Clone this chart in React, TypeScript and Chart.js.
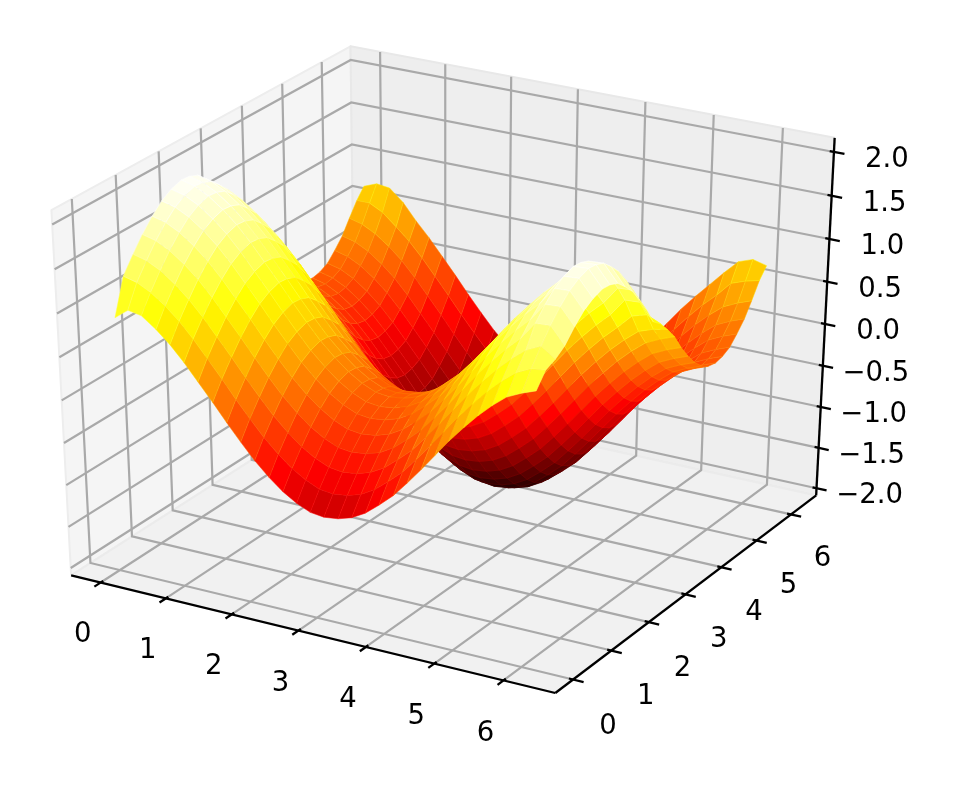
import React, { useEffect, useRef } from "react";
import { Chart, registerables } from "chart.js";

Chart.register(...registerables);

const gridX = [.05,.25,.45,.66,.86,1.06,1.26,1.47,1.67,1.87,2.07,2.28,2.48,2.68,2.88,3.08,3.29,3.49,3.69,3.89,4.1,4.3,4.5,4.7,4.9,5.11,5.31,5.51,5.71,5.92,6.12];
const gridY = [.08,.31,.55,.78,1.02,1.25,1.48,1.72,1.91,2.11,2.3,2.5,2.69,2.89,3.08,3.28,3.47,3.67,3.86,4.06,4.25,4.45,4.64,4.84,5.03,5.23,5.42,5.62,5.81,6.01,6.2];
const surfaceZ: number[][] = [
[.88,1,.97,.85,.71,.54,.35,.15,-.05,-.24,-.42,-.58,-.71,-.81,-.88,-.9,-.88,-.83,-.74,-.61,-.46,-.28,-.09,.11,.31,.5,.67,.82,.95,1.03,1.09],
[1.29,1.25,1.17,1.05,.91,.74,.55,.35,.15,-.04,-.22,-.38,-.51,-.61,-.68,-.7,-.68,-.63,-.54,-.41,-.26,-.08,.11,.31,.51,.7,.87,1.02,1.15,1.23,1.25],
[1.47,1.43,1.35,1.23,1.09,.92,.73,.53,.33,.14,-.04,-.2,-.33,-.43,-.5,-.52,-.5,-.45,-.36,-.23,-.08,.1,.29,.49,.69,.88,1.05,1.2,1.33,1.41,1.3],
[1.63,1.59,1.51,1.39,1.25,1.08,.89,.69,.49,.3,.12,-.04,-.17,-.27,-.34,-.36,-.34,-.29,-.2,-.07,.08,.26,.45,.65,.85,1.04,1.21,1.36,1.56,1.57,1.38],
[1.77,1.73,1.65,1.53,1.39,1.22,1.03,.83,.63,.44,.26,.1,-.03,-.13,-.2,-.22,-.2,-.15,-.06,.07,.22,.4,.59,.79,.99,1.18,1.35,1.5,1.7,1.71,1.52],
[1.88,1.84,1.76,1.64,1.5,1.33,1.14,.94,.74,.55,.37,.21,.08,-.02,-.09,-.11,-.09,-.04,.05,.18,.33,.51,.7,.9,1.1,1.29,1.46,1.61,1.81,1.82,1.63],
[1.95,1.91,1.83,1.71,1.57,1.4,1.21,1.01,.81,.62,.44,.28,.15,.05,-.02,-.04,-.02,.03,.12,.25,.4,.58,.77,.97,1.17,1.36,1.53,1.68,1.88,1.89,1.7],
[1.99,1.95,1.87,1.75,1.61,1.44,1.25,1.05,.85,.66,.48,.32,.19,.09,.02,0,.02,.07,.16,.29,.44,.62,.81,1.01,1.21,1.4,1.57,1.72,1.92,1.93,1.74],
[1.98,1.94,1.86,1.74,1.6,1.43,1.24,1.04,.84,.65,.47,.31,.18,.08,.01,-.01,.01,.06,.15,.28,.43,.61,.8,1,1.2,1.39,1.56,1.71,1.91,1.92,1.73],
[1.94,1.9,1.82,1.7,1.56,1.39,1.2,1,.8,.61,.43,.27,.14,.04,-.03,-.05,-.03,.02,.11,.24,.39,.57,.76,.96,1.16,1.35,1.52,1.67,1.87,1.88,1.69],
[1.85,1.81,1.73,1.61,1.47,1.3,1.11,.91,.71,.52,.34,.18,.05,-.05,-.12,-.14,-.12,-.07,.02,.15,.3,.48,.67,.87,1.07,1.26,1.43,1.58,1.78,1.79,1.6],
[1.74,1.7,1.62,1.5,1.36,1.19,1,.8,.6,.41,.23,.07,-.06,-.16,-.23,-.25,-.23,-.18,-.09,.04,.19,.37,.56,.76,.96,1.15,1.32,1.47,1.67,1.68,1.49],
[1.59,1.55,1.47,1.35,1.21,1.04,.85,.65,.45,.26,.08,-.08,-.21,-.31,-.38,-.4,-.38,-.33,-.24,-.11,.04,.22,.41,.61,.81,1,1.17,1.32,1.52,1.53,1.34],
[1.42,1.38,1.3,1.18,1.04,.87,.68,.48,.28,.09,-.09,-.25,-.38,-.48,-.55,-.57,-.55,-.5,-.41,-.28,-.13,.05,.24,.44,.64,.83,1,1.15,1.35,1.36,1.17],
[1.23,1.19,1.11,.99,.85,.68,.49,.29,.09,-.1,-.28,-.44,-.57,-.67,-.74,-.76,-.74,-.69,-.6,-.47,-.32,-.14,.05,.25,.45,.64,.81,.96,1.16,1.17,.98],
[1.03,.99,.91,.79,.65,.48,.29,.09,-.11,-.3,-.48,-.64,-.77,-.87,-.94,-.96,-.94,-.89,-.8,-.67,-.52,-.34,-.15,.05,.25,.44,.61,.76,.92,.97,.9],
[.83,.79,.71,.59,.45,.28,.09,-.11,-.31,-.5,-.68,-.84,-.97,-1.07,-1.14,-1.16,-1.14,-1.09,-1,-.87,-.72,-.54,-.35,-.15,.05,.24,.41,.56,.69,.75,.78],
[.64,.6,.52,.4,.26,.09,-.1,-.3,-.5,-.69,-.87,-1.03,-1.16,-1.26,-1.33,-1.35,-1.33,-1.28,-1.19,-1.06,-.91,-.73,-.54,-.34,-.14,.05,.22,.37,.5,.58,.64],
[.46,.42,.34,.22,.08,-.09,-.28,-.48,-.68,-.87,-1.05,-1.21,-1.34,-1.44,-1.51,-1.53,-1.51,-1.46,-1.37,-1.24,-1.09,-.91,-.72,-.52,-.32,-.13,.04,.19,.32,.4,.46],
[.3,.26,.18,.06,-.08,-.25,-.44,-.64,-.84,-1.03,-1.21,-1.37,-1.5,-1.6,-1.67,-1.69,-1.67,-1.62,-1.53,-1.4,-1.25,-1.07,-.88,-.68,-.48,-.29,-.12,.03,.16,.24,.3],
[.17,.13,.05,-.07,-.21,-.38,-.57,-.77,-.97,-1.16,-1.34,-1.5,-1.63,-1.73,-1.8,-1.82,-1.8,-1.75,-1.66,-1.53,-1.38,-1.2,-1.01,-.81,-.61,-.42,-.25,-.1,.03,.11,.17],
[.07,.03,-.05,-.17,-.31,-.48,-.67,-.87,-1.07,-1.26,-1.44,-1.6,-1.73,-1.83,-1.9,-1.92,-1.9,-1.85,-1.76,-1.63,-1.48,-1.3,-1.11,-.91,-.71,-.52,-.35,-.2,-.07,.01,.07],
[.01,-.03,-.11,-.23,-.37,-.54,-.73,-.93,-1.13,-1.32,-1.5,-1.66,-1.79,-1.89,-1.96,-1.98,-1.96,-1.91,-1.82,-1.69,-1.54,-1.36,-1.17,-.97,-.77,-.58,-.41,-.26,-.13,-.05,.01],
[-.01,-.05,-.13,-.25,-.39,-.56,-.75,-.95,-1.15,-1.34,-1.52,-1.68,-1.81,-1.91,-1.98,-2,-1.98,-1.93,-1.84,-1.71,-1.56,-1.38,-1.19,-.99,-.79,-.6,-.43,-.28,-.15,-.07,-.01],
[.01,-.03,-.11,-.23,-.37,-.54,-.73,-.93,-1.13,-1.32,-1.5,-1.66,-1.79,-1.89,-1.96,-1.98,-1.96,-1.91,-1.82,-1.69,-1.54,-1.36,-1.17,-.97,-.77,-.58,-.41,-.26,-.13,-.05,.01],
[.06,.02,-.06,-.18,-.32,-.49,-.68,-.88,-1.08,-1.27,-1.45,-1.61,-1.74,-1.84,-1.91,-1.93,-1.91,-1.86,-1.77,-1.64,-1.49,-1.31,-1.12,-.92,-.72,-.53,-.36,-.21,-.08,0,.06],
[.16,.12,.04,-.08,-.22,-.39,-.58,-.78,-.98,-1.17,-1.35,-1.51,-1.64,-1.74,-1.81,-1.83,-1.81,-1.76,-1.67,-1.54,-1.39,-1.21,-1.02,-.82,-.62,-.43,-.26,-.11,.02,.1,.16],
[.28,.24,.16,.04,-.1,-.27,-.46,-.66,-.86,-1.05,-1.23,-1.39,-1.52,-1.62,-1.69,-1.71,-1.69,-1.64,-1.55,-1.42,-1.27,-1.09,-.9,-.7,-.5,-.31,-.14,.01,.14,.22,.28],
[.44,.4,.32,.2,.06,-.11,-.3,-.5,-.7,-.89,-1.07,-1.23,-1.36,-1.46,-1.53,-1.55,-1.53,-1.48,-1.39,-1.26,-1.11,-.93,-.74,-.54,-.34,-.15,.02,.17,.3,.38,.44],
[.6,.6,.52,.38,.24,.07,-.12,-.32,-.52,-.71,-.89,-1.05,-1.18,-1.28,-1.35,-1.37,-1.35,-1.3,-1.21,-1.08,-.93,-.75,-.56,-.36,-.16,.03,.2,.35,.52,.58,.62],
[.72,.78,.76,.62,.43,.26,.07,-.13,-.33,-.52,-.7,-.86,-.99,-1.09,-1.16,-1.18,-1.16,-1.11,-1.02,-.89,-.74,-.56,-.37,-.17,.03,.22,.39,.56,.72,.78,.74],
];

const xTicks = [0,1,2,3,4,5,6];
const yTicks = [0,1,2,3,4,5,6];
const zTicks = [-2,-1.5,-1,-0.5,0,0.5,1,1.5,2];
const zTickLabels = ["\u22122.0","\u22121.5","\u22121.0","\u22120.5","0.0","0.5","1.0","1.5","2.0"];

const XL = [-0.458, 6.741];
const YL = [-0.458, 6.741];
const ZL = [-2.09, 2.16];
const W = 969, H = 791;
const SX = 5589, OX = 449.4, SY = 4170, OY = 358.6;

const elev = (30 * Math.PI) / 180, azim = (-60 * Math.PI) / 180;
const D = [Math.cos(elev) * Math.cos(azim), Math.cos(elev) * Math.sin(azim), Math.sin(elev)];
const U = [-Math.sin(azim), Math.cos(azim), 0];
const V = [-Math.sin(elev) * Math.cos(azim), -Math.sin(elev) * Math.sin(azim), Math.cos(elev)];

function rel(x: number, y: number, z: number) {
  return [
    (x - XL[0]) / (XL[1] - XL[0]) - 0.5,
    (y - YL[0]) / (YL[1] - YL[0]) - 0.5,
    (z - ZL[0]) / (ZL[1] - ZL[0]) - 0.5,
  ];
}
const dot = (a: number[], b: number[]) => a[0] * b[0] + a[1] * b[1] + a[2] * b[2];
function proj(x: number, y: number, z: number) {
  const r = rel(x, y, z);
  const d = 10 - dot(r, D);
  return { x: dot(r, U) / d, y: dot(r, V) / d };
}
const depth = (x: number, y: number, z: number) => dot(rel(x, y, z), D);

function hot(t: number) {
  const c = (v: number) => Math.round(255 * Math.max(0, Math.min(1, v)));
  return `rgb(${c(0.0416 + ((1 - 0.0416) * t) / 0.365)},${c((t - 0.365) / 0.381)},${c((t - 0.746) / 0.254)})`;
}

const base = { showLine: true, pointRadius: 0, pointHoverRadius: 0, tension: 0 };
const line = (pts: any[], color: string, width: number) => ({ ...base, data: pts, borderColor: color, borderWidth: width, fill: false, borderCapStyle: "butt" });
const poly = (pts: any[], color: string, edge: string, width: number) => ({
  ...base, data: [...pts, pts[0]], backgroundColor: color, borderColor: edge, borderWidth: width, fill: "shape", borderJoinStyle: "round",
});

function buildDatasets() {
  const [x0, x1] = XL, [y0, y1] = YL, [z0, z1] = ZL;
  const back: any[] = [];
  back.push(poly([proj(x0,y0,z0),proj(x0,y1,z0),proj(x0,y1,z1),proj(x0,y0,z1)], "#f5f5f5", "#ededed", 2));
  back.push(poly([proj(x0,y1,z0),proj(x1,y1,z0),proj(x1,y1,z1),proj(x0,y1,z1)], "#eeeeee", "#e8e8e8", 2));
  back.push(poly([proj(x0,y0,z0),proj(x1,y0,z0),proj(x1,y1,z0),proj(x0,y1,z0)], "#f1f1f1", "#ebebeb", 2));
  const G = "#a9a9a9", GW = 2.2;
  xTicks.forEach((t) => back.push(line([proj(t,y0,z0),proj(t,y1,z0),proj(t,y1,z1)], G, GW)));
  yTicks.forEach((t) => back.push(line([proj(x1,t,z0),proj(x0,t,z0),proj(x0,t,z1)], G, GW)));
  zTicks.forEach((t) => back.push(line([proj(x0,y0,t),proj(x0,y1,t),proj(x1,y1,t)], G, GW)));
  back.push(line([proj(x0,y0,z0),proj(x1,y0,z0)], "#000", 2.3));
  back.push(line([proj(x1,y0,z0),proj(x1,y1,z0)], "#000", 2.3));
  back.push(line([proj(x1,y1,z0),proj(x1,y1,z1)], "#000", 2.3));
  const IN = 0.06, OUT = 0.15;
  xTicks.forEach((t) => back.push(line([proj(t,y0+IN,z0),proj(t,y0-OUT,z0)], "#000", 2.3)));
  yTicks.forEach((t) => back.push(line([proj(x1-IN,t,z0),proj(x1+OUT,t,z0)], "#000", 2.3)));
  zTicks.forEach((t) => back.push(line([proj(x1-IN,y1,t),proj(x1+OUT,y1,t)], "#000", 2.3)));

  const cells: { d: number; ds: any }[] = [];
  for (let j = 0; j < gridY.length - 1; j++) {
    for (let i = 0; i < gridX.length - 1; i++) {
      const zz = [surfaceZ[j][i], surfaceZ[j][i + 1], surfaceZ[j + 1][i + 1], surfaceZ[j + 1][i]];
      const mz = (zz[0] + zz[1] + zz[2] + zz[3]) / 4;
      const t = (mz + 2) / 4;
      const xs = [gridX[i], gridX[i + 1], gridX[i + 1], gridX[i]];
      const ys = [gridY[j], gridY[j], gridY[j + 1], gridY[j + 1]];
      const pts = xs.map((x, k) => proj(x, ys[k], zz[k]));
      cells.push({ d: depth((xs[0] + xs[1]) / 2, (ys[0] + ys[2]) / 2, mz), ds: poly(pts, hot(t), hot(t + 0.05), 0.5) });
    }
  }
  // Chart.js paints the first dataset last, so marks are listed front to back
  cells.sort((a, b) => b.d - a.d);
  return [...cells.map((c) => c.ds), ...back.reverse()];
}

const labelPlugin = {
  id: "axisLabels",
  afterDatasetsDraw(chart: any) {
    const { ctx, scales } = chart;
    const [x0, x1] = XL, [y0, y1] = YL, [z0, z1] = ZL;
    const at = (p: any) => ({ x: scales.x.getPixelForValue(p.x), y: scales.y.getPixelForValue(p.y) });
    ctx.save();
    ctx.fillStyle = "#000";
    ctx.font = '27.5px "DejaVu Sans"';
    ctx.textAlign = "center";
    ctx.textBaseline = "middle";
    xTicks.forEach((t) => { const p = at(proj(t, y0, z0)); ctx.fillText(String(t), p.x - 18, p.y + 52 + t * 0.3); });
    yTicks.forEach((t) => { const p = at(proj(x1, t, z0)); ctx.fillText(String(t), p.x + 35 - t * 0.6, p.y + 47 - t * 0.4); });
    zTicks.forEach((t, i) => { const p = at(proj(x1, y1, t)); ctx.fillText(zTickLabels[i], p.x + 53, p.y + 8); });
    ctx.restore();
  },
};

export default function App() {
  const ref = useRef<HTMLCanvasElement>(null);
  useEffect(() => {
    const chart = new Chart(ref.current!, {
      type: "scatter",
      data: { datasets: buildDatasets() as any },
      options: {
        responsive: false,
        animation: false,
        events: [],
        layout: { padding: 0 },
        plugins: { legend: { display: false }, tooltip: { enabled: false } },
        scales: {
          x: { type: "linear", display: false, min: -OX / SX, max: (W - OX) / SX },
          y: { type: "linear", display: false, min: (OY - H) / SY, max: OY / SY },
        },
      },
      plugins: [labelPlugin],
    } as any);
    return () => chart.destroy();
  }, []);
  return <canvas ref={ref} width={W} height={H} style={{ position: "absolute", left: 0, top: 0, background: "#fff" }} />;
}
